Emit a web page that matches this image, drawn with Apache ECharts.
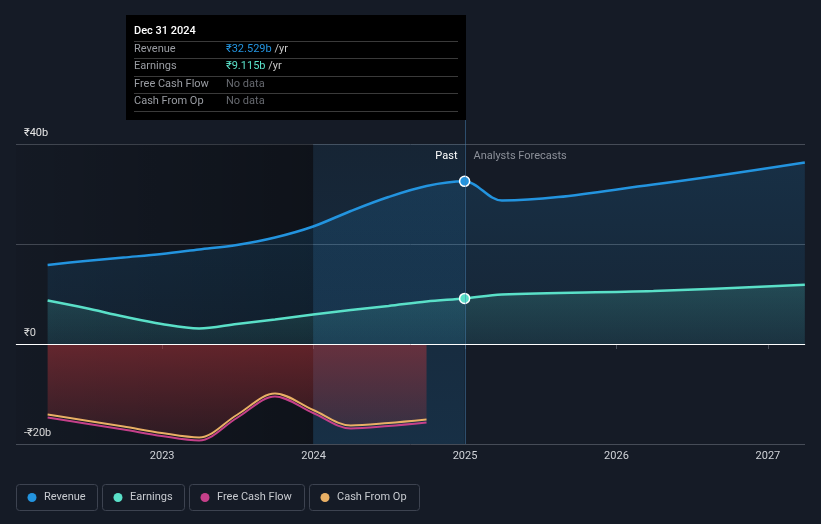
<!DOCTYPE html>
<html><head><meta charset="utf-8">
<script src="https://cdn.jsdelivr.net/npm/echarts@6/dist/echarts.min.js"></script>
<style>html,body{margin:0;padding:0;background:#151b26;}#c{width:821px;height:524px;}</style>
</head><body><div id="c"></div>
<script>
// ---- data ----
const pastDates = ['2022-03-31','2022-06-30','2022-09-30','2022-12-31','2023-03-31','2023-06-30','2023-09-30','2023-12-31','2024-03-31','2024-06-30','2024-09-30','2024-12-31'];
const forecastDates = ['2025-03-31','2026-03-31','2027-03-31'];
const revenue = [15.8, 16.6, 17.3, 18.0, 18.9, 19.8, 21.3, 23.5, 26.6, 29.4, 31.6, 32.529, 28.7, 31.9, 36.3];
const earnings = [8.7, 7.2, 5.5, 4.0, 3.1, 4.0, 4.9, 5.9, 6.8, 7.6, 8.5, 9.115, 9.9, 10.6, 11.85];
const cashFlowDates = ['2022-03-31','2022-06-30','2022-09-30','2022-12-31','2023-03-31','2023-06-30','2023-09-30','2023-12-31','2024-03-31','2024-06-30','2024-09-30'];
const cashFromOp = [-14.1, -15.3, -16.5, -17.8, -18.7, -14.2, -9.9, -13.2, -16.3, -15.8, -15.1];
const freeCashFlow = [-14.7, -15.9, -17.1, -18.4, -19.3, -14.8, -10.5, -13.8, -16.9, -16.4, -15.7];
const seriesNames = ['Revenue','Earnings','Free Cash Flow','Cash From Op'];
const xTickLabels = [2023, 2024, 2025, 2026, 2027];
const yTickLabels = [-20, 0, 40];
const tooltipTitle = 'Dec 31 2024';
const pastLabel = 'Past';
const forecastLabel = 'Analysts Forecasts';

// ---- helpers ----
function yearFrac(s){const p=s.split('-').map(Number);const t=Date.UTC(p[0],p[1]-1,p[2]);const a=Date.UTC(p[0],0,1),b=Date.UTC(p[0]+1,0,1);return p[0]+(t-a)/(b-a);}
function money(v){return v===0?'₹0':(v<0?'-₹'+(-v)+'b':'₹'+v+'b');}
const COL = {rev:'#2394df', earn:'#5ae0c8', fcf:'#c5408a', cfo:'#e9b065'};
const allDates = pastDates.concat(forecastDates);
const lastPast = pastDates.length-1;
const xMin = 2022.035, xMax = 2027.245;
const bandEnd = yearFrac(pastDates[lastPast]);
const bandStart = yearFrac(pastDates[lastPast-4]);
function lin(x2,y2,stops){return {type:'linear',x:0,y:0,x2:x2,y2:y2,colorStops:stops.map((c,i)=>({offset:i/(stops.length-1),color:c}))};}
function mkData(dates, vals, dotColor){
  return dates.map((d,i)=>{
    const v=[yearFrac(d), vals[i]];
    if(dotColor && i===lastPast) return {value:v, symbol:'circle', symbolSize:10, itemStyle:{color:dotColor, borderColor:'#ffffff', borderWidth:1.5}};
    return v;
  });
}
const SM = {smooth:0.33};

const chart = echarts.init(document.getElementById('c'), null, {renderer:'canvas'});
const option = {
  backgroundColor:'#151b26',
  animation:false,
  grid:{left:16,right:16,top:144,bottom:80},
  xAxis:{type:'value',min:xMin,max:xMax,
    axisLine:{lineStyle:{color:'#4b515c'}},
    axisTick:{customValues:xTickLabels,length:5,lineStyle:{color:'#4b515c'}},
    axisLabel:{customValues:xTickLabels,color:'#d0d3d8',fontSize:11,fontFamily:'Roboto',margin:7,formatter:v=>String(Math.round(v))},
    splitLine:{show:false}},
  yAxis:{type:'value',min:-20,max:40,interval:20,
    axisLine:{show:false},axisTick:{show:false},
    splitLine:{lineStyle:{color:'#464c57',width:1}},
    axisLabel:{inside:true,margin:8,customValues:yTickLabels,verticalAlign:'bottom',padding:[0,0,5,0],color:'#e6e6e6',fontSize:11,fontFamily:'Roboto',formatter:money}},
  series:[
    {type:'line',name:'pastShade',data:[],z:1,silent:true,
      markArea:{silent:true,itemStyle:{color:lin(1,0,['rgba(0,0,0,0.06)','rgba(0,0,0,0.32)'])},data:[[{xAxis:xMin},{xAxis:bandStart}]]}},
    Object.assign({type:'line',name:seriesNames[2],data:mkData(cashFlowDates,freeCashFlow),z:2,symbol:'none',
      lineStyle:{color:COL.fcf,width:2}},SM),
    Object.assign({type:'line',name:seriesNames[3],data:mkData(cashFlowDates,cashFromOp),z:2,symbol:'none',
      lineStyle:{color:COL.cfo,width:2},
      areaStyle:{color:lin(0,1,['rgba(200,55,60,0.64)','rgba(200,55,60,0.22)'])}},SM),
    {type:'line',name:'band',data:[],z:3,silent:true,
      markArea:{silent:true,itemStyle:{color:lin(0,1,['rgba(35,148,223,0.08)','rgba(35,148,223,0.17)'])},data:[[{xAxis:bandStart},{xAxis:bandEnd}]]},
      markLine:{silent:true,symbol:['none','none'],label:{show:false},lineStyle:{color:'rgba(70,130,180,0.5)',width:1,type:'solid'},data:[{xAxis:bandEnd}]}},
    Object.assign({type:'line',name:seriesNames[0],data:mkData(allDates,revenue,COL.rev),z:4,symbol:'none',showAllSymbol:true,
      lineStyle:{color:COL.rev,width:2.5},
      areaStyle:{color:lin(0,1,['rgba(35,148,223,0.24)','rgba(35,148,223,0.12)'])}},SM),
    Object.assign({type:'line',name:seriesNames[1],data:mkData(allDates,earnings,COL.earn),z:4,symbol:'none',showAllSymbol:true,
      lineStyle:{color:COL.earn,width:2.5},
      areaStyle:{color:lin(0,1,['rgba(90,224,200,0.26)','rgba(90,224,200,0.10)'])}},SM),
    {type:'line',name:'zero',data:[],z:5,silent:true,
      markLine:{silent:true,symbol:['none','none'],label:{show:false},lineStyle:{color:'#ffffff',width:1,type:'solid'},data:[{yAxis:0}]}}
  ]
};
chart.setOption(option);

// ---- overlays: tooltip panel, past/forecast labels, legend ----
const px = chart.convertToPixel({gridIndex:0},[bandEnd,40]);
const lineX = Math.round(px[0])+0.5, gridTop = px[1];
const font = '11px Roboto';
const g = [];
g.push({type:'line',shape:{x1:lineX,y1:119,x2:lineX,y2:gridTop},style:{stroke:'rgba(70,130,180,0.5)',lineWidth:1},z:10});
g.push({type:'rect',shape:{x:126,y:15,width:340,height:105},style:{fill:'#000000'},z:20});
g.push({type:'text',x:134,y:31,z:21,style:{text:tooltipTitle,fill:'#ffffff',font:'500 11px Roboto',textVerticalAlign:'middle',verticalAlign:'middle'}});
const rowY=[49,66.5,84,101.5], sepY=[41.5,58.5,76.5,93.5,111.5];
sepY.forEach(y=>g.push({type:'line',shape:{x1:134,y1:y,x2:458,y2:y},style:{stroke:'#3a3a3a',lineWidth:1},z:21}));
const rowVals=[revenue[lastPast], earnings[lastPast], null, null];
const rowCols=[COL.rev, COL.earn];
seriesNames.forEach((n,i)=>{
  g.push({type:'text',x:134,y:rowY[i],z:21,style:{text:n,fill:'#9a9da3',font:font,textVerticalAlign:'middle',verticalAlign:'middle'}});
  if(rowVals[i]!==null){
    g.push({type:'text',x:226,y:rowY[i],z:21,style:{text:'{v|₹'+rowVals[i]+'b}{u| /yr}',font:font,textVerticalAlign:'middle',verticalAlign:'middle',
      rich:{v:{fill:rowCols[i],color:rowCols[i],font:font},u:{fill:'#c8c8c8',color:'#c8c8c8',font:font}}}});
  } else {
    g.push({type:'text',x:226,y:rowY[i],z:21,style:{text:'No data',fill:'#66696f',font:font,textVerticalAlign:'middle',verticalAlign:'middle'}});
  }
});
g.push({type:'text',x:lineX-8,y:156,z:21,style:{text:pastLabel,fill:'#ffffff',font:font,textAlign:'right',align:'right',textVerticalAlign:'middle',verticalAlign:'middle'}});
g.push({type:'text',x:lineX+8,y:156,z:21,style:{text:forecastLabel,fill:'#8c9099',font:font,textVerticalAlign:'middle',verticalAlign:'middle'}});
const legendCols=[COL.rev, COL.earn, COL.fcf, COL.cfo];
const boxW=[81,82,115,110];
let bx=16;
seriesNames.forEach((n,i)=>{
  g.push({type:'rect',shape:{x:bx+0.5,y:484.5,width:boxW[i],height:26,r:3},style:{fill:'none',stroke:'#3d4350',lineWidth:1},z:21});
  g.push({type:'circle',shape:{cx:bx+16,cy:497.5,r:4.5},style:{fill:legendCols[i]},z:21});
  g.push({type:'text',x:bx+28,y:497.5,z:21,style:{text:n,fill:'#c8cbd0',font:font,textVerticalAlign:'middle',verticalAlign:'middle'}});
  bx += boxW[i]+5;
});
chart.setOption({graphic:{elements:g}});
</script></body></html>
